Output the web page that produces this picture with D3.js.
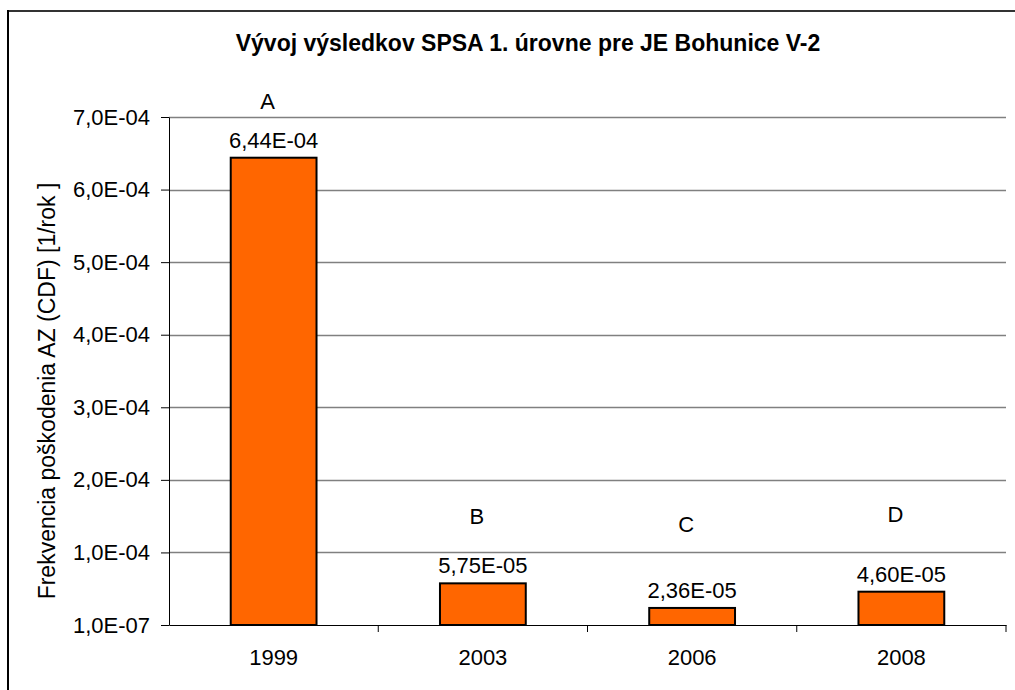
<!DOCTYPE html>
<html lang="sk">
<head>
<meta charset="utf-8">
<title>Vývoj výsledkov SPSA 1. úrovne pre JE Bohunice V-2</title>
<script src="https://d3js.org/d3.v7.min.js"></script>
<style>
  body { margin: 0; background: #fff; }
  text { font-family: "Liberation Sans", Arial, sans-serif; fill: #000; }
</style>
</head>
<body>
<script>
// data
var years = ["1999", "2003", "2006", "2008"];
var cdf = [6.44e-4, 5.75e-5, 2.36e-5, 4.60e-5];
var cdfLabels = ["6,44E-04", "5,75E-05", "2,36E-05", "4,60E-05"];
var letters = ["A", "B", "C", "D"];
var letterLevel = [7.22e-4, 1.50e-4, 1.39e-4, 1.53e-4]; // annotation height, in axis units
var yTicks = [1e-7, 1e-4 + 1e-7, 2e-4 + 1e-7, 3e-4 + 1e-7, 4e-4 + 1e-7, 5e-4 + 1e-7, 6e-4 + 1e-7, 7e-4 + 1e-7];
var yTickLabels = ["1,0E-07", "1,0E-04", "2,0E-04", "3,0E-04", "4,0E-04", "5,0E-04", "6,0E-04", "7,0E-04"];

var width = 1015, height = 690;
var svg = d3.select("body").append("svg")
    .attr("width", width)
    .attr("height", height);

// outer frame (only top/left visible)
svg.append("line").attr("x1", 8).attr("x2", width).attr("y1", 11).attr("y2", 11)
    .attr("stroke", "#333").attr("stroke-width", 2);
svg.append("line").attr("x1", 8).attr("x2", 8).attr("y1", 10).attr("y2", height)
    .attr("stroke", "#000").attr("stroke-width", 2);

var x = d3.scaleBand().domain(years).range([169, 1006]).paddingInner(0).paddingOuter(0);
var y = d3.scaleLinear().domain([1e-7, 7e-4 + 1e-7]).range([625, 117]);

// gridlines
svg.append("g").selectAll("line")
    .data(yTicks.slice(1))
    .enter().append("line")
    .attr("x1", 169).attr("x2", 1006)
    .attr("y1", function(d) { return Math.round(y(d)) + 0.5; })
    .attr("y2", function(d) { return Math.round(y(d)) + 0.5; })
    .attr("stroke", "#808080").attr("stroke-width", 1.5);

// y axis
var yAxis = d3.axisLeft(y)
    .tickValues(yTicks)
    .tickFormat(function(d, i) { return yTickLabels[i]; })
    .tickSize(8).tickSizeOuter(0).tickPadding(11);
var gy = svg.append("g").attr("transform", "translate(169,0)").call(yAxis);
gy.selectAll("text").style("font-size", "22px");
gy.select(".domain").attr("stroke", "#000");

// x axis
var xAxis = d3.axisBottom(x).tickSize(0).tickSizeOuter(0).tickPadding(24);
var gx = svg.append("g").attr("transform", "translate(0,625)").call(xAxis);
gx.selectAll("text").style("font-size", "22px");
gx.select(".domain").attr("stroke", "#000");
// category separators
gx.selectAll(".sep")
    .data(years)
    .enter().append("line")
    .attr("class", "sep")
    .attr("x1", function(d) { return x(d) + x.bandwidth(); })
    .attr("x2", function(d) { return x(d) + x.bandwidth(); })
    .attr("y1", 0).attr("y2", 7)
    .attr("stroke", "#000");

// bars
var barW = x.bandwidth() * 0.41;
svg.append("g").selectAll("rect")
    .data(cdf)
    .enter().append("rect")
    .attr("x", function(d, i) { return x(years[i]) + (x.bandwidth() - barW) / 2; })
    .attr("width", barW)
    .attr("y", function(d) { return y(d); })
    .attr("height", function(d) { return y(1e-7) - y(d); })
    .attr("fill", "#FF6600")
    .attr("stroke", "#000")
    .attr("stroke-width", 2);

// value labels
svg.append("g").selectAll("text")
    .data(cdf)
    .enter().append("text")
    .attr("x", function(d, i) { return x(years[i]) + x.bandwidth() / 2; })
    .attr("y", function(d) { return y(d) - 10; })
    .attr("text-anchor", "middle")
    .style("font-size", "22px")
    .text(function(d, i) { return cdfLabels[i]; });

// letter annotations
svg.append("g").selectAll("text")
    .data(letters)
    .enter().append("text")
    .attr("x", function(d, i) { return x(years[i]) + x.bandwidth() / 2 - 6; })
    .attr("y", function(d, i) { return y(letterLevel[i]); })
    .attr("dy", "0.35em")
    .attr("text-anchor", "middle")
    .style("font-size", "22px")
    .text(function(d) { return d; });

// y axis title
svg.append("text")
    .attr("transform", "translate(55,391) rotate(-90)")
    .attr("text-anchor", "middle")
    .style("font-size", "23px")
    .text("Frekvencia poškodenia AZ (CDF) [1/rok  ]");

// chart title
svg.append("text")
    .attr("x", 528).attr("y", 51)
    .attr("text-anchor", "middle")
    .style("font-size", "23px")
    .style("font-weight", "bold")
    .text("Vývoj výsledkov SPSA 1. úrovne pre JE Bohunice V-2");
</script>
</body>
</html>
